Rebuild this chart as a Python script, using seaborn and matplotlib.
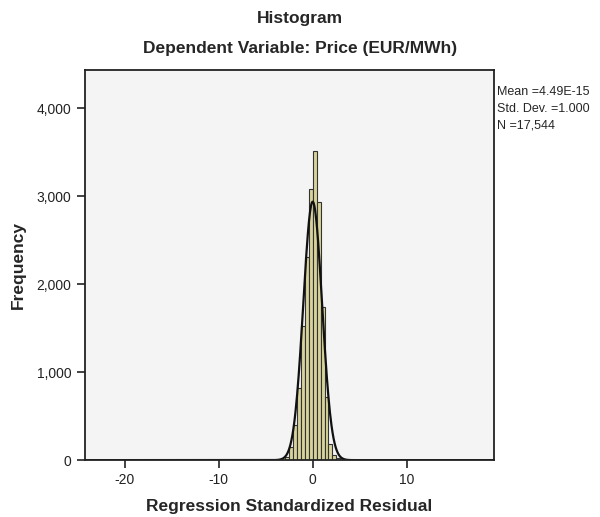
import numpy as np
import matplotlib
matplotlib.use("Agg")
import matplotlib.pyplot as plt
from matplotlib.ticker import FuncFormatter
import seaborn as sns

# Histogram bins (bin width ~0.42, 0 is a bin edge)
bin_w = 0.42
bin_left = [-2.94, -2.52, -2.10, -1.68, -1.26, -0.84, -0.42,
            0.00, 0.42, 0.84, 1.26, 1.68, 2.10, 2.52]
counts = [38, 151, 398, 815, 1523, 2310, 3080,
          3511, 2935, 1742, 720, 189, 57, 25]

# sparse outliers in the tails (only a handful of cases each)
tail_left = [-20.58, -17.64, -15.54, -12.18, -10.08, -6.72, -4.62, 3.78, 5.04, 7.56, 10.92, 14.28]
tail_counts = [1, 2, 1, 2, 1, 2, 3, 3, 2, 1, 1, 1]

# stats shown in the box
mean_val = 4.49e-15
sd_val = 1.000
n_obs = 17544
stats_text = ["Mean =4.49E-15", "Std. Dev. =1.000", "N =17,544"]

xticks = [-20, -10, 0, 10]
yticks = [0, 1000, 2000, 3000, 4000]

sns.set_style("white")
plt.rcParams["font.family"] = ["Liberation Sans", "DejaVu Sans"]
plt.rcParams["axes.unicode_minus"] = False

fig = plt.figure(figsize=(6, 5.17), dpi=100)
ax = fig.add_axes([0.141, 0.110, 0.683, 0.755])
ax.set_facecolor("#f4f4f4")

centers = [b + bin_w / 2 for b in bin_left + tail_left]
weights = counts + tail_counts
sns.histplot(x=centers, weights=weights, binwidth=bin_w,
             binrange=(-52 * bin_w, 46 * bin_w),
             color="#d8d39a", edgecolor="#333333", linewidth=0.8,
             alpha=1, ax=ax)

# fitted normal curve from the reported stats
xs = np.linspace(-24.3, 19.4, 800)
ys = n_obs * bin_w * np.exp(-0.5 * ((xs - mean_val) / sd_val) ** 2) / (sd_val * np.sqrt(2 * np.pi))
sns.lineplot(x=xs, y=ys, color="#111111", linewidth=1.6, ax=ax)

ax.set_xlim(-24.3, 19.36)
ax.set_ylim(0, 4440)
ax.set_xticks(xticks)
ax.set_yticks(yticks)
ax.yaxis.set_major_formatter(FuncFormatter(lambda v, p: f"{v:,.0f}"))
ax.tick_params(axis="both", direction="out", length=6, width=1.2,
               colors="#222222", labelsize=10, labelcolor="#222222")
ax.tick_params(axis="x", pad=3)
ax.tick_params(left=True, bottom=True)
for s in ax.spines.values():
    s.set_color("#222222")
    s.set_linewidth(1.3)

ax.set_xlabel("Regression Standardized Residual", fontsize=12.5, fontweight="bold", labelpad=9)
ax.set_ylabel("Frequency", fontsize=12.5, fontweight="bold", labelpad=8)

fig.text(0.5, 1 - 18 / 517, "Histogram", ha="center", va="center",
         fontsize=12.5, fontweight="bold")
fig.text(0.5, 1 - 48 / 517, "Dependent Variable: Price (EUR/MWh)", ha="center", va="center",
         fontsize=12.5, fontweight="bold")

for i, t in enumerate(stats_text):
    fig.text(497 / 600, 1 - (92 + 17 * i) / 517, t, ha="left", va="center", fontsize=9)

fig.savefig("out.png", dpi=100)
